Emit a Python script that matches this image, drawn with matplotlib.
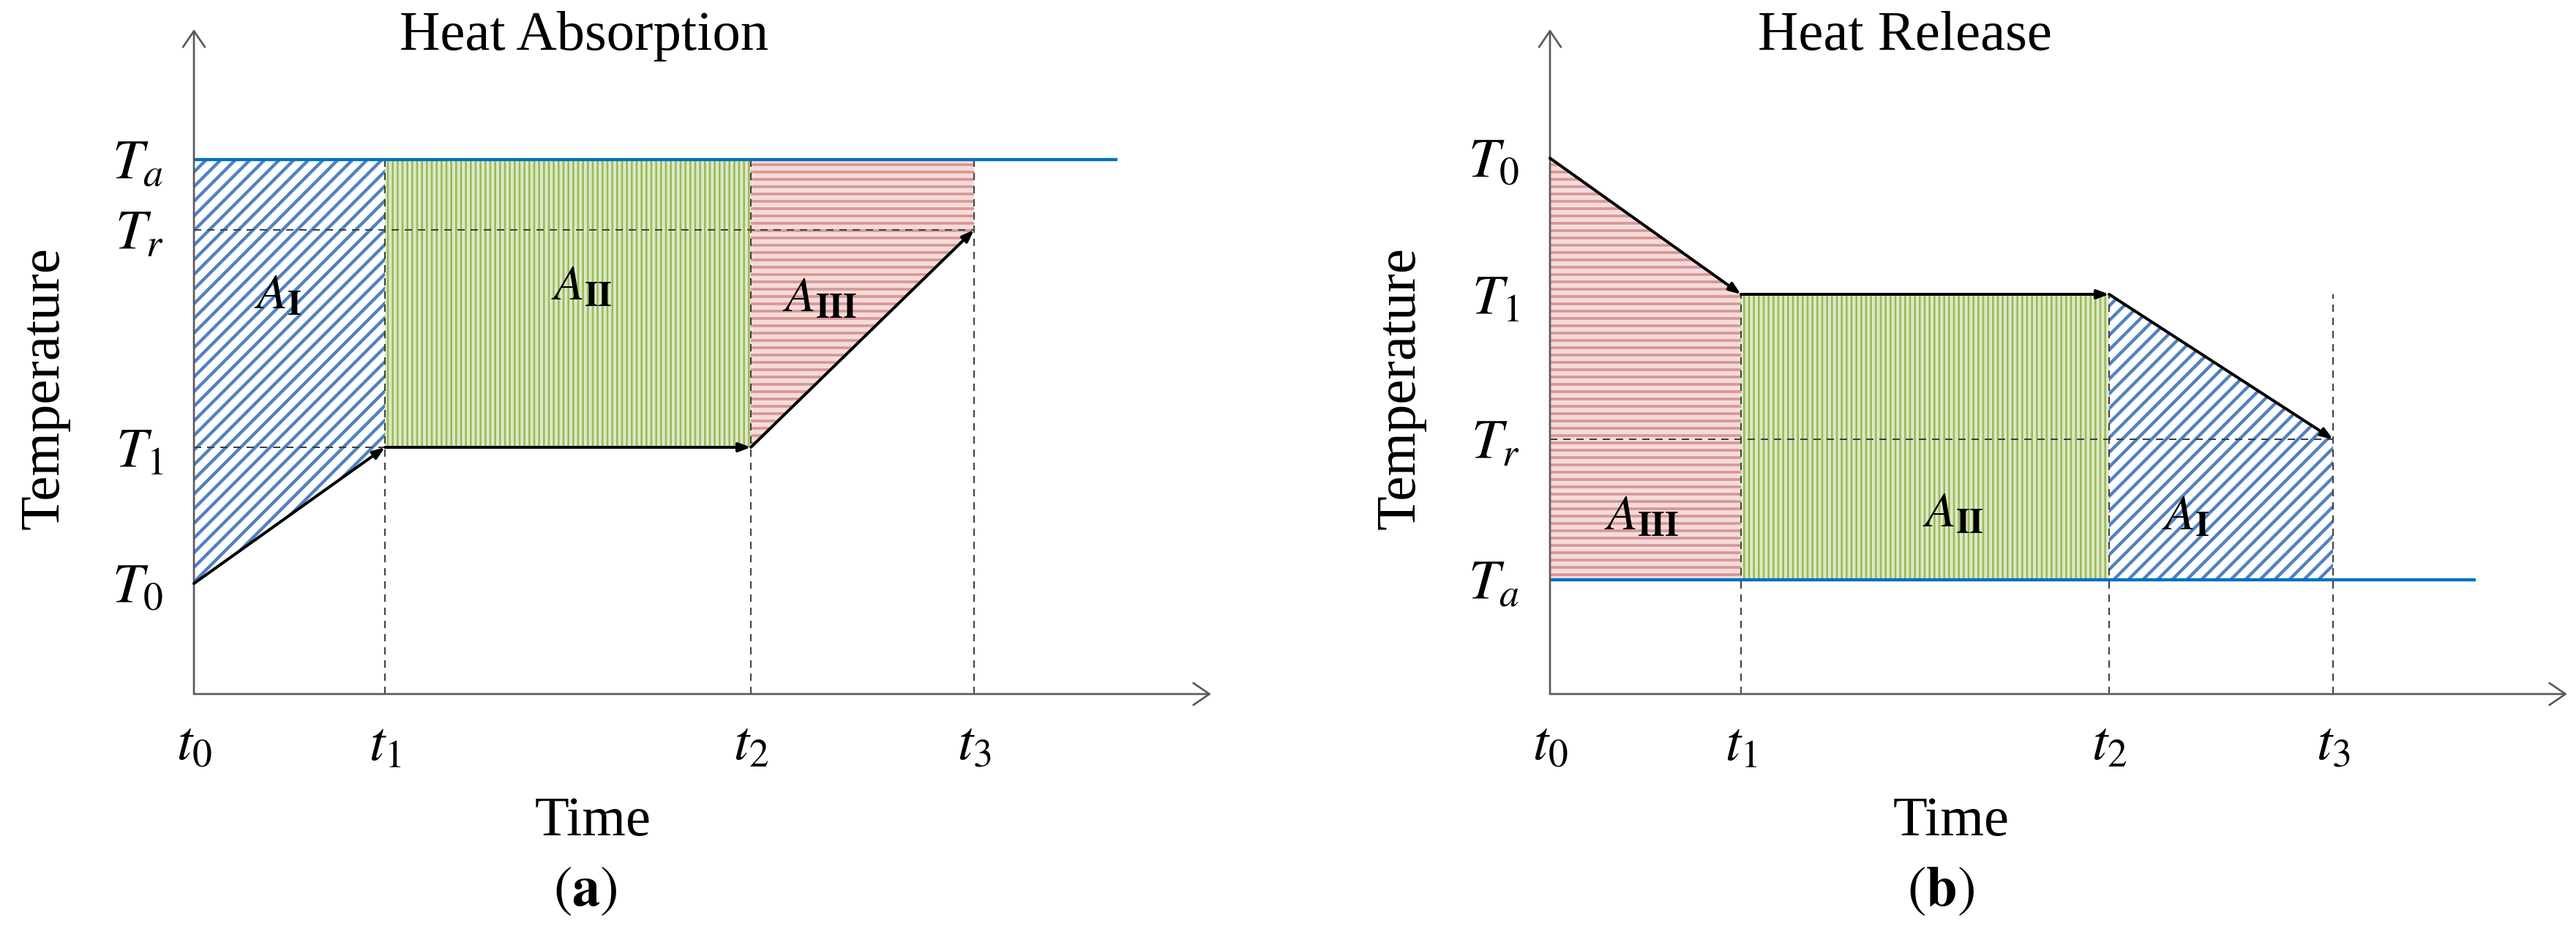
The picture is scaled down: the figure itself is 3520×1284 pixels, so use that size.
import matplotlib
matplotlib.use('Agg')
import matplotlib.pyplot as plt

plt.rcParams['font.family'] = ['Liberation Serif', 'DejaVu Serif']
plt.rcParams['mathtext.fontset'] = 'stix'

# ---- data (schematic units) ----
time_labels = [r'$t_0$', r'$t_1$', r'$t_2$', r'$t_3$']
level_labels = [r'$T_0$', r'$T_1$', r'$T_r$', r'$T_a$']

# heat absorption panel
t_abs = [0.0, 2.61, 7.61, 10.66]
lev_abs = [1.51, 3.37, 6.34, 7.30]      # T0, T1, Tr, Ta
ta_end_abs = 12.62
hdash_abs = [3.37, 6.34]

# heat release panel
t_rel = [0.0, 2.61, 7.64, 10.70]
lev_rel = [7.32, 5.46, 3.48, 1.56]      # T0, T1, Tr, Ta
ta_end_rel = 12.65
hdash_rel = [3.48]

region_names = [r'$A_{\mathbf{I}}$', r'$A_{\mathbf{II}}$', r'$A_{\mathbf{III}}$']
label_pos_abs = [(1.15, 5.44), (5.30, 5.56), (8.55, 5.40)]
label_pos_rel = [(1.25, 2.41), (5.51, 2.45), (8.69, 2.41)]

# hatch styles
BLUE = dict(hatch='//', facecolor='white', edgecolor='#4f81c4', hlw=2.6)
GREEN = dict(hatch='|||', facecolor='#dde9c8', edgecolor='#9bbb59', hlw=1.6)
RED = dict(hatch='--', facecolor='#f2dcdb', edgecolor='#d99694', hlw=2.2)

W, H, DPI = 3520, 1284, 120
fig = plt.figure(figsize=(W / DPI, H / DPI), dpi=DPI)

XMAX, YMAX = 14.0, 9.1
ORIGIN_Y = 948
ax_a = fig.add_axes([265 / W, (H - ORIGIN_Y) / H, 1400 / W, 910 / H])
ax_b = fig.add_axes([2118 / W, (H - ORIGIN_Y) / H, 1400 / W, 910 / H])

FS = 46
AXC = '#595959'
DASHC = '#404040'


def draw_panel(ax, t, lev, ta_end, hdash, styles, names, label_pos, title, title_x, time_x, tag, tag_x):
    T0, T1, Tr, Ta = lev
    path = [T0, T1, T1, Tr]
    ax.set_xlim(0, XMAX)
    ax.set_ylim(0, YMAX)
    for s in ax.spines.values():
        s.set_visible(False)

    # hatched regions between the temperature path and ambient line
    for i in range(3):
        st = styles[i]
        with plt.rc_context({'hatch.linewidth': st['hlw']}):
            poly = ax.fill_between(t[i:i + 2], path[i:i + 2], Ta, facecolor=st['facecolor'],
                                   edgecolor=st['edgecolor'], hatch=st['hatch'], lw=0, zorder=1)
            if hasattr(poly, 'set_hatch_linewidth'):
                poly.set_hatch_linewidth(st['hlw'])

    # dashed guide lines
    top = max(T1, Tr, Ta)
    for x in t[1:]:
        ax.plot([x, x], [0, top], color=DASHC, lw=1.2, dashes=(5, 4), zorder=2)
    for y in hdash:
        xe = t[3] if y == Tr else t[1]
        ax.plot([0, xe], [y, y], color=DASHC, lw=1.2, dashes=(5, 4), zorder=2)

    # ambient temperature line
    ax.plot([0, ta_end], [Ta, Ta], color='#0070c0', lw=2.6, zorder=3, solid_capstyle='butt')

    # temperature path arrows
    for i in range(3):
        ax.annotate('', xy=(t[i + 1], path[i + 1]), xytext=(t[i], path[i]),
                    arrowprops=dict(arrowstyle='-|>,head_length=0.8,head_width=0.3', color='black',
                                    lw=2.4, shrinkA=0, shrinkB=0, mutation_scale=10), zorder=4)

    # axes with open arrow heads
    ap = dict(arrowstyle='->,head_length=0.66,head_width=0.45', color=AXC, lw=1.6,
              shrinkA=0, shrinkB=0, mutation_scale=20)
    ax.annotate('', xy=(13.9, 0), xytext=(0, 0), arrowprops=ap, annotation_clip=False, zorder=3)
    ax.annotate('', xy=(0, 9.08), xytext=(0, 0), arrowprops=ap, annotation_clip=False, zorder=3)

    ax.set_xticks(t, time_labels, fontsize=FS)
    ax.set_yticks(lev, level_labels, fontsize=FS)
    ax.tick_params(axis='x', length=0, pad=22)
    ax.tick_params(axis='y', length=0, pad=25)

    for (x, y), nm in zip(label_pos, names):
        ax.text(x, y, nm, fontsize=41, ha='center', va='center', zorder=5)

    ax.set_ylabel('Temperature', fontsize=FS)
    ax.yaxis.set_label_coords(-2.04 / XMAX, 4.18 / YMAX)
    ax.yaxis.label.set_va('center')
    ax.set_xlabel('Time', fontsize=FS)
    ax.xaxis.set_label_coords(time_x / XMAX, -1.93 / YMAX)
    ax.xaxis.label.set_va('baseline')
    ax.set_title(title, fontsize=FS, x=title_x / XMAX, y=8.70 / YMAX, va='baseline')
    ax.text(tag_x, -2.89, r'$(\mathbf{' + tag + r'})$', fontsize=FS, ha='center', va='baseline')


draw_panel(ax_a, t_abs, lev_abs, ta_end_abs, hdash_abs, [BLUE, GREEN, RED],
           region_names, label_pos_abs, 'Heat Absorption', 5.33, 5.45, 'a', 5.35)
draw_panel(ax_b, t_rel, lev_rel, ta_end_rel, hdash_rel, [RED, GREEN, BLUE],
           region_names[::-1], label_pos_rel, 'Heat Release', 4.85, 5.48, 'b', 5.34)

fig.savefig('out.png', dpi=DPI)
